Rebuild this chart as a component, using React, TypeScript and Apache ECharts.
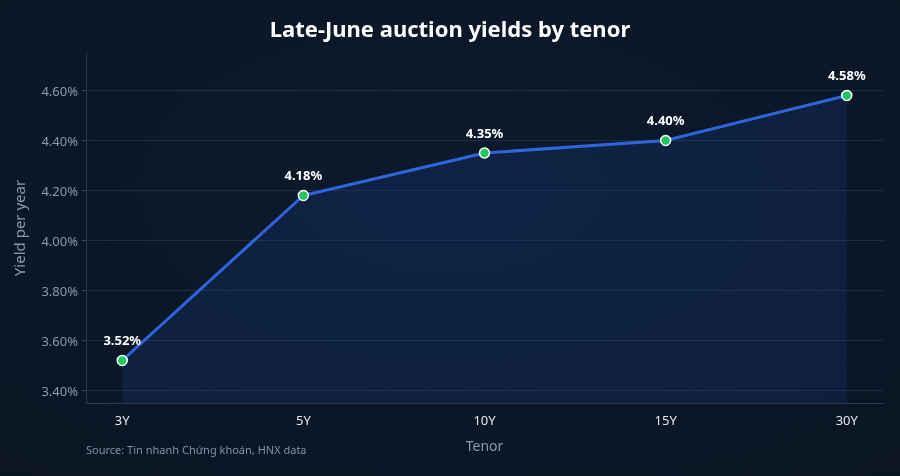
import React, { useEffect, useRef } from "react";
import * as echarts from "echarts";

const tenors = ["3Y", "5Y", "10Y", "15Y", "30Y"];
const yields = [3.52, 4.18, 4.35, 4.4, 4.58];
const yTicks = [3.4, 3.6, 3.8, 4.0, 4.2, 4.4, 4.6];
const xTicks = [0, 1, 2, 3, 4];

const FONT = "'Noto Sans', 'Open Sans', sans-serif";

export default function App() {
  const ref = useRef<HTMLDivElement>(null);
  useEffect(() => {
    if (!ref.current) return;
    const chart = echarts.init(ref.current, undefined, { renderer: "svg" });
    const data = yields.map((v, i) => [i, v]);
    chart.setOption({
      animation: false,
      backgroundColor: {
        type: "radial",
        x: 0.5,
        y: 0.4,
        r: 0.9,
        colorStops: [
          { offset: 0, color: "#0d1a2c" },
          { offset: 1, color: "#0a1422" },
        ],
      },
      textStyle: { fontFamily: FONT },
      title: {
        text: "Late-June auction yields by tenor",
        left: "center",
        top: 12,
        textStyle: { color: "#ffffff", fontSize: 22, fontWeight: "bold", fontFamily: FONT },
      },
      grid: { left: 86, right: 17, top: 53, bottom: 73 },
      xAxis: {
        type: "value",
        min: -0.2,
        max: 4.2,
        name: "Tenor",
        nameLocation: "middle",
        nameGap: 35,
        nameTextStyle: { color: "#8d99ad", fontSize: 14, fontFamily: FONT },
        axisLine: { show: true, onZero: false, lineStyle: { color: "#2a3850", width: 1 } },
        axisTick: { show: false, customValues: xTicks },
        splitLine: { show: false },
        axisLabel: {
          customValues: xTicks,
          color: "#e2e8f0",
          fontSize: 13,
          margin: 10,
          fontFamily: FONT,
          formatter: (v: number) => tenors[Math.round(v)] ?? "",
        },
      },
      yAxis: {
        type: "value",
        min: 3.35,
        max: 4.75,
        name: "Yield per year",
        nameLocation: "middle",
        nameGap: 60,
        nameTextStyle: { color: "#8d99ad", fontSize: 15, fontFamily: FONT },
        axisLine: { show: true, onZero: false, lineStyle: { color: "#2a3850", width: 1 } },
        axisTick: { show: true, customValues: yTicks, length: 4, lineStyle: { color: "#3a4860" } },
        splitLine: { show: true, lineStyle: { color: "#1e2b40", width: 1 } },
        axisLabel: {
          customValues: yTicks,
          color: "#8d99ad",
          fontSize: 13,
          margin: 8,
          fontFamily: FONT,
          formatter: (v: number) => v.toFixed(2) + "%",
        },
      },
      graphic: [
        {
          type: "text",
          left: 86,
          top: 444,
          style: {
            text: "Source: Tin nhanh Chứng khoán, HNX data",
            fill: "#8391a6",
            fontSize: 11,
            fontFamily: FONT,
          },
        },
      ],
      series: [
        {
          type: "line",
          data,
          symbol: "circle",
          symbolSize: 10,
          itemStyle: { color: "#22c55e", borderColor: "#ffffff", borderWidth: 1.5 },
          lineStyle: { color: "#2f65dc", width: 3 },
          areaStyle: { color: "rgba(29, 70, 170, 0.28)" },
          label: {
            show: true,
            position: "top",
            distance: 8,
            color: "#ffffff",
            fontSize: 13,
            fontWeight: "bold",
            fontFamily: FONT,
            formatter: (p: any) => p.value[1].toFixed(2) + "%",
          },
        },
      ],
    });
    return () => chart.dispose();
  }, []);
  return <div ref={ref} style={{ width: 900, height: 476, position: "fixed", left: 0, top: 0 }} />;
}
